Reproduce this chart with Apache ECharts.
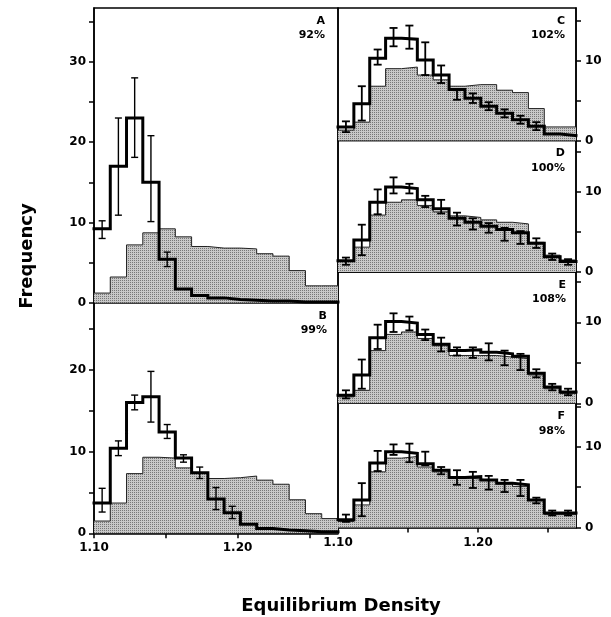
<!DOCTYPE html>
<html>
<head>
<meta charset="utf-8">
<script src="https://cdn.jsdelivr.net/npm/echarts@6/dist/echarts.min.js"></script>
<style>
    html, body { margin: 0; padding: 0; background: #fff; }
    #chart { width: 611px; height: 617px; }
</style>
</head>
<body>
<div id="chart"></div>
<script>
// density bins: 15 bins from 1.10 to 1.27
var binStart = 1.10;
var binEnd = 1.27;
var binCount = 15;

var xTicks = [1.10, 1.15, 1.20, 1.25];
var xLabels = [1.10, 1.20];

// panel A
var openA = [9.2, 17.0, 23.0, 15.0, 5.4, 1.7, 0.9, 0.6, 0.4, 0.3, 0.2, 0.2, 0.1, 0.1, 0.1];
var grayA = [1.2, 3.2, 7.2, 8.7, 9.2, 8.2, 7.0, 6.8, 6.8, 6.7, 6.1, 5.8, 4.0, 2.1, 2.1];
var errA = [[0, 8.0, 10.2], [1, 10.9, 23.0], [2, 18.1, 28.0], [3, 10.1, 20.8], [4, 4.5, 6.3]];

// panel B
var openB = [3.7, 10.4, 16.0, 16.7, 12.4, 9.2, 7.4, 4.2, 2.5, 1.1, 0.6, 0.4, 0.3, 0.2, 0.2];
var grayB = [1.5, 3.7, 7.3, 9.3, 9.2, 8.0, 7.4, 6.7, 6.8, 7.0, 6.5, 6.0, 4.1, 2.4, 1.8];
var errB = [[0, 2.6, 5.5], [1, 9.5, 11.3], [2, 15.1, 16.9], [3, 13.6, 19.8], [4, 11.6, 13.3],
            [5, 8.7, 9.6], [6, 6.7, 8.1], [7, 2.9, 5.6], [8, 1.8, 3.3]];

// panel C
var openC = [1.7, 4.6, 10.3, 12.8, 12.7, 10.1, 8.2, 6.4, 5.3, 4.3, 3.4, 2.6, 1.8, 0.8, 0.6];
var grayC = [1.3, 2.3, 6.8, 9.0, 9.2, 8.2, 7.6, 6.8, 7.0, 7.0, 6.3, 6.0, 4.0, 1.7, 1.7];
var errC = [[0, 1.05, 2.4], [1, 2.5, 6.8], [2, 9.5, 11.4], [3, 11.8, 14.1], [4, 11.5, 14.4],
            [5, 8.2, 12.3], [6, 7.2, 9.4], [7, 5.1, 6.3], [8, 4.7, 5.9], [9, 3.8, 4.8],
            [10, 2.9, 3.9], [11, 2.1, 3.1], [12, 1.3, 2.3]];

// panel D
var openD = [1.4, 4.0, 8.7, 10.6, 10.4, 9.0, 7.9, 6.7, 6.2, 5.7, 5.3, 4.9, 3.6, 1.9, 1.3];
var grayD = [1.3, 3.1, 7.1, 8.7, 9.0, 8.3, 7.5, 7.0, 6.8, 6.5, 6.2, 6.0, 3.7, 2.1, 1.5];
var errD = [[0, 0.9, 1.8], [1, 2.1, 5.9], [2, 7.2, 10.3], [3, 9.8, 11.8], [4, 9.8, 11.0],
            [5, 8.1, 9.5], [6, 7.3, 9.0], [7, 5.8, 7.4], [8, 5.3, 6.7], [9, 4.9, 6.1],
            [10, 3.9, 5.5], [11, 3.5, 5.1], [12, 3.0, 4.2], [13, 1.5, 2.3], [14, 0.9, 1.6]];

// panel E
var openE = [1.0, 3.5, 8.1, 10.1, 9.9, 8.5, 7.3, 6.5, 6.6, 6.3, 6.1, 5.8, 3.7, 2.0, 1.4];
var grayE = [0.8, 1.6, 6.5, 8.5, 8.8, 8.0, 7.1, 5.9, 5.9, 5.9, 5.7, 5.5, 3.5, 1.8, 1.2];
var errE = [[0, 0.6, 1.6], [1, 1.8, 5.4], [2, 6.7, 9.7], [3, 8.8, 11.1], [4, 9.0, 10.7],
            [5, 7.8, 9.1], [6, 6.4, 8.1], [7, 5.9, 6.9], [8, 5.6, 6.9], [9, 5.3, 7.4],
            [10, 4.7, 6.5], [11, 4.1, 6.1], [12, 3.2, 4.2], [13, 1.6, 2.4], [14, 1.0, 1.8]];

// panel F
var openF = [0.95, 3.4, 8.0, 9.4, 9.2, 7.9, 7.1, 6.2, 6.3, 5.9, 5.5, 5.3, 3.4, 1.8, 1.8];
var grayF = [0.75, 2.8, 6.9, 8.6, 8.8, 7.5, 6.9, 6.2, 6.0, 5.8, 5.4, 5.1, 3.4, 1.6, 1.6];
var errF = [[0, 0.7, 1.6], [1, 1.4, 5.5], [2, 7.0, 9.5], [3, 9.0, 10.3], [4, 8.1, 10.4],
            [5, 7.7, 9.4], [6, 6.6, 7.5], [7, 5.3, 7.1], [8, 4.9, 6.9], [9, 4.7, 6.4],
            [10, 4.4, 5.9], [11, 3.9, 5.9], [12, 3.0, 3.7], [13, 1.5, 2.1], [14, 1.5, 2.1]];

var yTicksA = [0, 5, 10, 15, 20, 25, 30, 35];
var yLabelsA = [0, 10, 20, 30];
var yTicksB = [0, 5, 10, 15, 20, 25];
var yLabelsB = [0, 10, 20];
var yTicksR = [0, 5, 10, 15];
var yLabelsR = [0, 10];

var font = 'DejaVu Sans';

var binWidth = (binEnd - binStart) / binCount;

// dotted grey fill like the halftone in the print
var pat = document.createElement('canvas');
pat.width = 2;
pat.height = 2;
var pctx = pat.getContext('2d');
pctx.fillStyle = '#c8c8c8';
pctx.fillRect(0, 0, 2, 2);
pctx.fillStyle = '#777777';
pctx.fillRect(0, 0, 1, 1);

var panels = [
    {name: 'A', pct: '92%', open: openA, gray: grayA, err: errA, ymax: 36.7, ticks: yTicksA, labels: yLabelsA,
        side: 'left', box: {left: 94, top: 8, width: 244, height: 294.7}, xaxis: false, tx: 325},
    {name: 'B', pct: '99%', open: openB, gray: grayB, err: errB, ymax: 28.2, ticks: yTicksB, labels: yLabelsB,
        side: 'left', box: {left: 94, top: 302.7, width: 244, height: 230.6}, xaxis: true, tx: 327},
    {name: 'C', pct: '102%', open: openC, gray: grayC, err: errC, ymax: 16.6, ticks: yTicksR, labels: yLabelsR,
        side: 'right', box: {left: 338, top: 8, width: 238, height: 132.5}, xaxis: false, tx: 565},
    {name: 'D', pct: '100%', open: openD, gray: grayD, err: errD, ymax: 16.4, ticks: yTicksR, labels: yLabelsR,
        side: 'right', box: {left: 338, top: 140.5, width: 238, height: 131.5}, xaxis: false, tx: 565},
    {name: 'E', pct: '108%', open: openE, gray: grayE, err: errE, ymax: 16.2, ticks: yTicksR, labels: yLabelsR,
        side: 'right', box: {left: 338, top: 272, width: 238, height: 131.3}, xaxis: false, tx: 566},
    {name: 'F', pct: '98%', open: openF, gray: grayF, err: errF, ymax: 15.4, ticks: yTicksR, labels: yLabelsR,
        side: 'right', box: {left: 338, top: 403.3, width: 238, height: 124.2}, xaxis: true, tx: 565}
];

function stepData(vals) {
    var out = [];
    for (var i = 0; i < vals.length; i++) {
        out.push([binStart + i * binWidth, vals[i]]);
    }
    out.push([binEnd, vals[vals.length - 1]]);
    return out;
}

function errData(list) {
    return list.map(function (e) {
        return [binStart + (e[0] + 0.5) * binWidth, e[1], e[2]];
    });
}

function errRenderer(lw, cap) {
    return function (params, api) {
        var x = api.value(0);
        var p1 = api.coord([x, api.value(1)]);
        var p2 = api.coord([x, api.value(2)]);
        var st = {stroke: '#000', lineWidth: lw};
        return {
            type: 'group',
            children: [
                {type: 'line', shape: {x1: p1[0], y1: p1[1], x2: p2[0], y2: p2[1]}, style: st},
                {type: 'line', shape: {x1: p1[0] - cap, y1: p1[1], x2: p1[0] + cap, y2: p1[1]}, style: st},
                {type: 'line', shape: {x1: p2[0] - cap, y1: p2[1], x2: p2[0] + cap, y2: p2[1]}, style: st}
            ]
        };
    };
}

var grids = [], xAxes = [], yAxes = [], series = [], graphics = [];

panels.forEach(function (p, i) {
    grids.push({
        left: p.box.left, top: p.box.top, width: p.box.width, height: p.box.height,
        show: true, borderColor: '#000', borderWidth: 1.5, containLabel: false
    });
    xAxes.push({
        gridIndex: i,
        type: 'value',
        min: binStart,
        max: binEnd,
        show: p.xaxis,
        splitLine: {show: false},
        axisLine: {show: true, lineStyle: {color: '#000', width: 1.5}},
        axisTick: {show: true, inside: false, length: 5, lineStyle: {color: '#000', width: 1.5}, customValues: xTicks},
        axisLabel: {
            customValues: xLabels, margin: 9, color: '#000',
            fontFamily: font, fontWeight: 'bold', fontSize: 12,
            formatter: function (v) { return v.toFixed(2); }
        }
    });
    yAxes.push({
        gridIndex: i,
        type: 'value',
        min: 0,
        max: p.ymax,
        position: p.side,
        splitLine: {show: false},
        axisLine: {show: true, lineStyle: {color: '#000', width: 1.5}},
        axisTick: {show: true, inside: false, length: 5, lineStyle: {color: '#000', width: 1.5}, customValues: p.ticks},
        axisLabel: {
            customValues: p.labels, margin: p.side == 'left' ? 8 : 9, color: '#000',
            fontFamily: font, fontWeight: 'bold', fontSize: 12
        }
    });

    var right = p.side == 'right';
    series.push({
        type: 'line',
        xAxisIndex: i, yAxisIndex: i,
        step: 'end',
        symbol: 'none',
        silent: true,
        data: stepData(p.gray),
        lineStyle: {color: '#222', width: 1},
        areaStyle: {color: {image: pat, repeat: 'repeat'}, opacity: 1},
        z: 2
    });
    series.push({
        type: 'line',
        xAxisIndex: i, yAxisIndex: i,
        step: 'end',
        symbol: 'none',
        silent: true,
        data: stepData(p.open),
        lineStyle: {color: '#000', width: 3, join: 'miter', cap: 'square'},
        z: 3
    });
    series.push({
        type: 'custom',
        xAxisIndex: i, yAxisIndex: i,
        silent: true,
        encode: {x: 0, y: [1, 2]},
        data: errData(p.err),
        renderItem: errRenderer(right ? 1.8 : 1.4, right ? 4 : 3.5),
        z: 4
    });

    graphics.push({
        type: 'text', x: p.tx, y: p.box.top + 13,
        style: {text: p.name, fontFamily: font, fontWeight: 'bold', fontSize: 11, fill: '#000',
            textAlign: 'right', textVerticalAlign: 'middle'}
    });
    graphics.push({
        type: 'text', x: p.tx, y: p.box.top + 27.5,
        style: {text: p.pct, fontFamily: font, fontWeight: 'bold', fontSize: 11, fill: '#000',
            textAlign: 'right', textVerticalAlign: 'middle'}
    });
});

graphics.push({
    type: 'text', x: 27, y: 256, rotation: Math.PI / 2,
    style: {text: 'Frequency', fontFamily: font, fontWeight: 'bold', fontSize: 18, fill: '#000',
        textAlign: 'center', textVerticalAlign: 'middle'}
});
graphics.push({
    type: 'text', x: 341, y: 606,
    style: {text: 'Equilibrium Density', fontFamily: font, fontWeight: 'bold', fontSize: 18, fill: '#000',
        textAlign: 'center', textVerticalAlign: 'middle'}
});

var chart = echarts.init(document.getElementById('chart'));
chart.setOption({
    animation: false,
    backgroundColor: '#fff',
    grid: grids,
    xAxis: xAxes,
    yAxis: yAxes,
    series: series,
    graphic: graphics
});
</script>
</body>
</html>
